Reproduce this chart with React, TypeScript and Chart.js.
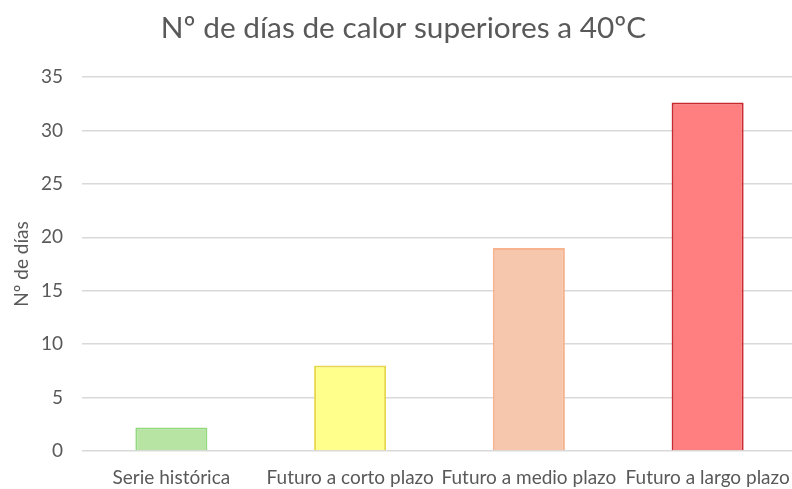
import React, { useEffect, useRef } from "react";
import { Chart, registerables } from "chart.js";

Chart.register(...registerables);

const categories = ["Serie histórica", "Futuro a corto plazo", "Futuro a medio plazo", "Futuro a largo plazo"];
const values = [2.2, 8, 19, 32.6];
const fillColors = ["#b7e4a3", "#ffff8c", "#f6c7ad", "#ff7f80"];
const borderColors = ["#92d87c", "#e6d84a", "#f7b38f", "#c8282e"];
const titleText = "Nº de días de calor superiores a 40ºC";
const yAxisTitle = "Nº de días";

export default function App() {
  const ref = useRef<HTMLCanvasElement>(null);
  useEffect(() => {
    if (!ref.current) return;
    const chart = new Chart(ref.current, {
      type: "bar",
      data: {
        labels: categories,
        datasets: [
          {
            data: values,
            backgroundColor: fillColors,
            borderColor: borderColors,
            borderWidth: 2,
            barPercentage: 0.403,
            categoryPercentage: 1,
          },
        ],
      },
      options: {
        animation: false,
        responsive: false,
        maintainAspectRatio: false,
        layout: { padding: { left: 10, right: 0, top: 0, bottom: 0 } },
        plugins: {
          legend: { display: false },
          tooltip: { enabled: false },
          title: {
            display: true,
            text: titleText,
            color: "#595959",
            font: { family: "Lato", size: 29.8, weight: "normal" },
            padding: { top: 10.1, bottom: 31.1 },
          },
        },
        scales: {
          x: {
            grid: { display: false, drawTicks: false },
            border: { display: false },
            ticks: {
              color: "#595959",
              font: { family: "Lato", size: 19 },
              maxRotation: 0,
              autoSkip: false,
              padding: 15.6,
            },
            afterFit: (axis: any) => {
              axis.height = 38;
              axis.paddingLeft = 0;
              axis.paddingRight = 0;
            },
          },
          y: {
            min: 0,
            max: 35,
            ticks: {
              stepSize: 5,
              color: "#595959",
              font: { family: "Lato", size: 19 },
              padding: 19,
            },
            grid: { color: "#d9d9d9", lineWidth: 1.5, drawTicks: false },
            border: { display: false },
            title: {
              display: true,
              text: yAxisTitle,
              color: "#595959",
              font: { family: "Lato", size: 19 },
              padding: { top: 0, bottom: 8 },
            },
            afterFit: (axis: any) => {
              axis.width = 72;
              axis.paddingTop = 0;
              axis.paddingBottom = 0;
            },
          },
        },
      },
    });
    return () => chart.destroy();
  }, []);
  return (
    <div style={{ position: "absolute", left: 0, top: 0, width: 792, height: 489, overflow: "hidden", background: "#fff" }}>
      <canvas ref={ref} width={797} height={489} style={{ width: 797, height: 489 }} />
    </div>
  );
}
